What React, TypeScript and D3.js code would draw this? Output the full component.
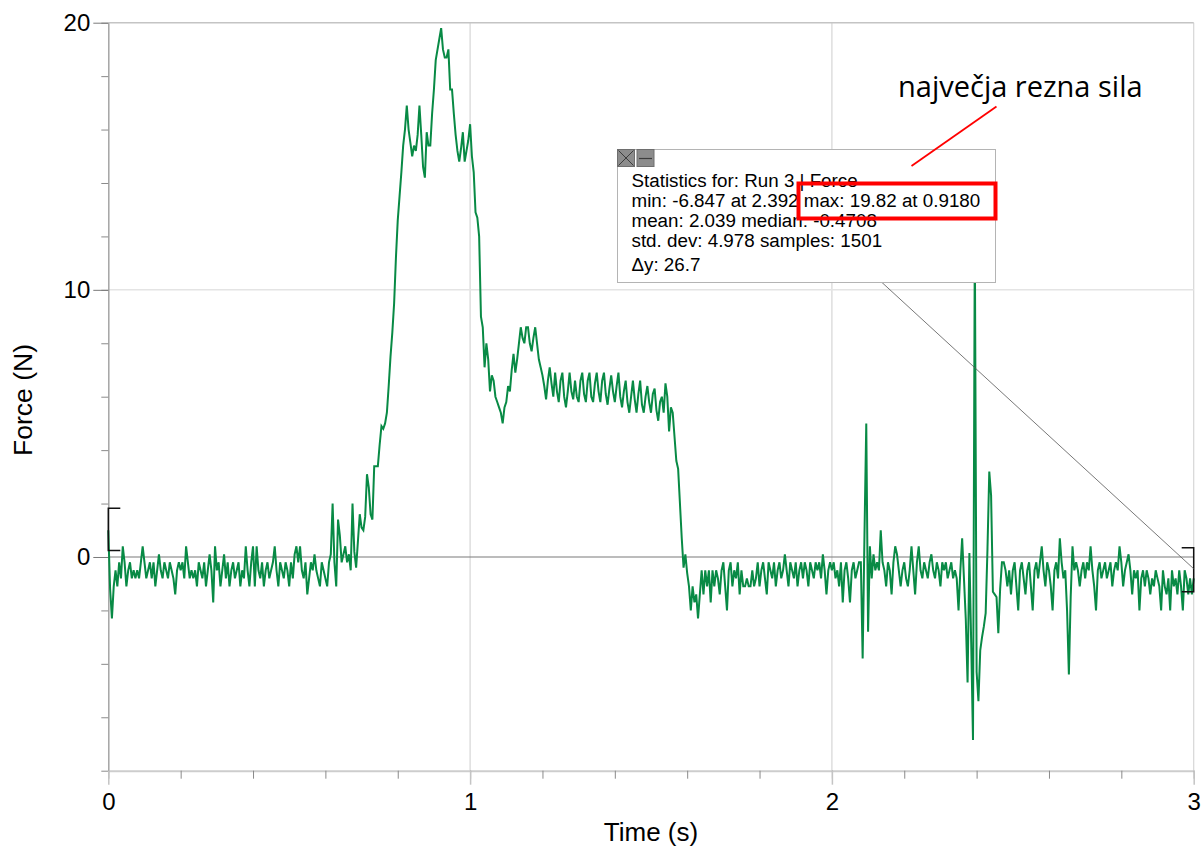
import React, { useEffect, useRef } from "react";
import * as d3 from "d3";

// sampling interval of the force sensor (s)
const SAMPLE_STEP = 0.005;

// Force (N), 0.000 – 0.995 s
const force0 = [
  1.0, -1.2, -2.3, -1.1, -0.5, -1.1, -0.2, -0.8, 0.4, -0.2, -1.1, -0.5, -0.2, -0.8, -0.5, -0.8, -0.5, -0.8, -0.2, 0.4,
  -0.2, -0.8, -0.5, -0.2, -0.8, -0.2, -1.1, -0.5, 0.1, -0.5, -0.8, -0.2, -0.5, -0.8, -0.2, -0.5, -0.8, -1.4, -0.5, -0.2,
  -0.5, -0.2, -0.8, 0.4, -0.2, -0.8, -0.5, -0.8, -0.5, -1.1, -0.2, -0.5, -0.8, -0.2, -1.1, -0.5, 0.1, -0.5, -1.7, 0.4,
  -0.5, -0.2, -1.1, -0.5, 0.1, -0.8, -0.2, -1.1, -0.5, -0.2, -0.8, -0.5, -0.2, -1.1, -0.5, -0.8, 0.4, -0.5, -1.1, -0.2,
  0.4, -1.1, 0.4, -0.5, -0.8, -0.2, -1.1, -0.5, -0.2, -0.8, -0.5, -0.2, 0.4, -0.5, -1.1, -0.2, -0.5, -0.8, -0.2, -0.5,
  -1.1, -0.2, -0.8, 0.1, 0.4, -0.2, 0.4, -0.5, -0.8, -0.2, -1.4, -0.8, -0.2, -0.5, 0.1, -0.5, -0.8, -1.1, -0.2, -0.5,
  -0.8, -1.1, -0.2, 0.1, 2.0, -0.2, -1.1, 1.4, 0.8, -0.2, 0.1, 0.4, -0.2, 0.1, -0.5, 2.0, 0.2, -0.4, 0.6, 1.6,
  1.1, 1.0, 1.5, 3.1, 2.6, 1.6, 1.4, 3.4, 3.4, 3.4, 4.2, 4.9, 4.8, 5.0, 5.4, 6.4, 7.5, 8.4, 9.5, 11.2,
  12.6, 13.5, 14.4, 15.4, 16.0, 16.9, 16.0, 15.5, 15.0, 15.4, 15.2, 15.8, 16.9, 15.8, 14.6, 14.2, 15.9, 15.4, 15.4, 16.6,
  17.5, 18.6, 19.0, 19.4, 19.8, 19.0, 18.7, 18.7, 19.0, 17.5, 17.5, 16.6, 15.8, 15.2, 14.8, 15.3, 15.9, 14.8, 15.2, 15.6,
];

// Force (N), 1.000 – 1.995 s
const force1 = [
  16.2, 15.0, 14.4, 12.9, 12.7, 12.0, 9.0, 8.6, 7.1, 8.0, 7.4, 6.2, 6.8, 6.6, 6.0, 5.8, 5.6, 5.4, 5.0, 5.6,
  5.8, 6.4, 6.2, 7.0, 7.6, 6.9, 7.4, 8.0, 8.6, 8.2, 8.0, 8.6, 8.6, 8.0, 7.7, 8.2, 8.6, 8.0, 7.4, 7.1,
  6.8, 6.4, 5.9, 6.6, 7.1, 6.5, 6.0, 6.9, 6.2, 5.8, 6.6, 6.9, 6.0, 5.6, 6.2, 6.9, 6.2, 5.9, 6.6, 6.0,
  5.8, 6.6, 6.9, 6.1, 5.8, 6.6, 6.9, 6.0, 5.8, 6.5, 6.9, 6.2, 5.8, 6.6, 6.9, 6.1, 5.7, 6.3, 6.8, 6.2,
  5.8, 6.4, 6.9, 6.0, 5.6, 6.2, 6.6, 5.8, 5.4, 6.0, 6.6, 5.9, 5.4, 6.1, 6.6, 5.7, 5.4, 6.0, 6.4, 5.8,
  5.4, 6.1, 6.3, 5.5, 5.1, 5.8, 6.0, 5.4, 6.5, 6.0, 4.7, 5.6, 5.4, 4.5, 3.6, 3.3, 2.0, 0.7, -0.4, 0.1,
  -0.6, -1.1, -2.0, -1.1, -1.7, -1.4, -2.3, -1.4, -0.5, -1.4, -0.5, -1.1, -0.5, -1.7, -0.5, -1.1, -0.5, -0.8, -1.4, -0.5,
  -0.2, -1.1, -2.0, -0.5, -0.2, -1.1, -0.5, -0.8, -0.2, -1.4, -0.5, -1.1, -1.1, -0.8, -1.1, -1.1, -0.5, -1.1, -0.8, -0.2,
  -1.1, -0.5, -0.2, -0.8, -1.4, -0.2, -0.5, -0.8, -0.2, -1.1, -0.5, -0.2, -0.8, -0.5, 0.1, -0.5, -1.1, -0.2, -0.5, -0.8,
  -0.2, -1.1, -0.5, -0.2, -0.8, -0.2, -0.5, -1.1, -0.2, -0.5, -0.8, -0.2, -0.5, -0.2, -0.8, 0.1, -0.5, -1.4, -0.5, -0.2,
];

// Force (N), 2.000 – 3.000 s
const force2 = [
  -0.5, -0.2, -0.8, -0.5, -1.1, -0.2, -1.7, -0.5, -0.2, -0.8, -1.7, -0.5, -0.2, -0.8, -0.5, -0.2, -0.2, -3.8, 0.8, 5.0,
  -2.8, 0.4, -0.8, 0.1, -0.5, -0.2, -0.5, 1.0, -0.2, -0.5, -1.1, -0.2, -0.5, -1.4, -0.2, 0.4, 0.1, -0.5, -1.1, -0.5,
  -0.2, -0.8, -1.1, -0.5, 0.4, -0.5, -1.4, -0.2, 0.4, -0.5, -0.8, -0.2, -0.5, -0.8, -0.2, 0.1, -0.5, -0.8, -0.2, -0.5,
  -1.1, -0.2, -0.5, -0.2, -0.8, -0.5, -0.2, -0.8, -0.5, -0.8, -2.0, -0.5, 0.7, -0.8, -2.3, -4.7, 0.15, -3.2, -6.85, 12.0,
  -4.3, -5.4, -3.5, -3.0, -2.6, -2.1, 0.3, 3.2, 2.3, -1.3, -1.4, -1.5, -2.85, -1.2, -0.2, -0.2, -0.5, -1.1, -0.5, -1.4,
  -0.5, -0.2, -1.1, -2.0, -0.5, -0.2, -0.8, -1.4, -0.5, -0.2, -1.1, -2.0, -0.5, -0.2, -0.8, -0.2, 0.4, -0.5, -1.1, -0.2,
  -0.5, -1.1, -2.0, -0.5, -0.2, -0.8, 0.7, -0.2, -0.8, -0.5, -2.0, -4.4, -1.5, 0.4, -0.5, -0.2, -0.5, -1.1, -0.5, -0.2,
  -0.8, -0.2, -0.5, 0.4, -0.5, -1.1, -2.0, -0.5, -0.2, -0.8, -0.5, -0.2, -0.8, -0.5, -0.2, -1.1, -0.5, -0.2, -0.5, 0.4,
  -0.2, -1.1, -0.5, -0.2, 0.1, -0.5, -1.4, -0.5, -0.8, -0.5, -2.0, -0.8, -0.5, -1.1, -0.5, -0.8, -1.4, -0.8, -1.1, -0.5,
  -0.8, -1.1, -2.0, -0.5, -1.1, -1.4, -0.8, -2.0, -0.5, -1.1, -0.8, -1.4, -0.5, -1.1, -2.0, -0.5, -0.8, -1.4, -0.8, -1.4,
  -0.8,
];

// axis ticks
const xMinorTicks = [0, 0.2, 0.4, 0.6, 0.8, 1, 1.2, 1.4, 1.6, 1.8, 2, 2.2, 2.4, 2.6, 2.8, 3];
const xMajorTicks = [0, 1, 2, 3];
const yMinorTicks = [-8, -6, -4, -2, 0, 2, 4, 6, 8, 10, 12, 14, 16, 18, 20];
const yMajorTicks = [0, 10, 20];

// cursor brackets and the Δy connector [[t, F], [t, F]]
const brackets = [
  { t: 0, top: 1.82, bottom: 0.24, side: 1 },
  { t: 3, top: 0.35, bottom: -1.3, side: -1 },
];
const deltaLine = [
  [2.134, 10.33],
  [3, -0.44],
];

const statsLines = [
  "Statistics for: Run 3 | Force",
  "min: -6.847 at 2.392 max: 19.82 at 0.9180",
  "mean: 2.039 median: -0.4708",
  "std. dev: 4.978 samples: 1501",
];
const deltaText = "Δy: 26.7";
const annotation = "največja rezna sila";

const FONT = "'Liberation Sans', Arial, sans-serif";
const GREEN = "#088a45";

function drawChart(el: SVGSVGElement | null) {
  if (!el) return;
  const svg = d3.select(el);
  svg.selectAll("*").remove();

  const data = [...force0, ...force1, ...force2].map((v, i) => ({
    t: i * SAMPLE_STEP,
    f: v,
  }));

  const x = d3.scaleLinear().domain([0, 3]).range([108.3, 1193.7]);
  const y = d3.scaleLinear().domain([-8, 20]).range([770.7, 22.7]);

  // grid
  svg
    .append("g")
    .selectAll("line")
    .data(xMajorTicks.filter((d) => d > 0))
    .join("line")
    .attr("x1", (d) => x(d))
    .attr("x2", (d) => x(d))
    .attr("y1", y(20))
    .attr("y2", y(-8))
    .attr("stroke", "#d6d6d6")
    .attr("stroke-width", 1.2);

  svg
    .append("g")
    .selectAll("line")
    .data([10, 20])
    .join("line")
    .attr("x1", x(0))
    .attr("x2", x(3))
    .attr("y1", (d) => y(d))
    .attr("y2", (d) => y(d))
    .attr("stroke", (d) => (d === 20 ? "#c4c4c4" : "#e4e4e4"))
    .attr("stroke-width", 1.5);

  // zero line
  svg
    .append("line")
    .attr("x1", x(0))
    .attr("x2", x(3))
    .attr("y1", y(0))
    .attr("y2", y(0))
    .attr("stroke", "#7a7a7a")
    .attr("stroke-width", 1.2);

  // y axis
  const yMinor = svg
    .append("g")
    .attr("transform", `translate(${x(0)},0)`)
    .call(d3.axisLeft(y).tickValues(yMinorTicks).tickSize(7).tickSizeOuter(0).tickFormat(() => ""));
  yMinor.select(".domain").attr("stroke", "#a4a4a4").attr("stroke-width", 1.5);
  yMinor.selectAll(".tick line").attr("stroke", "#8a8a8a");

  const yMajor = svg
    .append("g")
    .attr("transform", `translate(${x(0)},0)`)
    .call(d3.axisLeft(y).tickValues(yMajorTicks).tickSize(15).tickPadding(3).tickFormat(d3.format("d")));
  yMajor.select(".domain").remove();
  yMajor.selectAll(".tick line").attr("stroke", "#7a7a7a");
  yMajor
    .selectAll(".tick text")
    .attr("font-family", FONT)
    .attr("font-size", 24)
    .attr("fill", "#000");

  // x axis
  const xMinor = svg
    .append("g")
    .attr("transform", `translate(0,${y(-8)})`)
    .call(d3.axisBottom(x).tickValues(xMinorTicks).tickSize(8).tickSizeOuter(0).tickFormat(() => ""));
  xMinor.select(".domain").attr("stroke", "#cdcdcd").attr("stroke-width", 2);
  xMinor.selectAll(".tick line").attr("stroke", "#8a8a8a");

  const xMajor = svg
    .append("g")
    .attr("transform", `translate(0,${y(-8)})`)
    .call(d3.axisBottom(x).tickValues(xMajorTicks).tickSize(14).tickPadding(8).tickFormat(d3.format("d")));
  xMajor.select(".domain").remove();
  xMajor.selectAll(".tick line").attr("stroke", "#c4c4c4").attr("stroke-width", 1.5);
  xMajor
    .selectAll(".tick text")
    .attr("font-family", FONT)
    .attr("font-size", 24)
    .attr("fill", "#000");

  // axis titles
  svg
    .append("text")
    .attr("x", (x(0) + x(3)) / 2)
    .attr("y", 841)
    .attr("text-anchor", "middle")
    .attr("font-family", FONT)
    .attr("font-size", 26)
    .text("Time (s)");

  svg
    .append("text")
    .attr("transform", "translate(32.3,400) rotate(-90)")
    .attr("text-anchor", "middle")
    .attr("font-family", FONT)
    .attr("font-size", 26.5)
    .text("Force (N)");

  // force trace
  const line = d3
    .line<{ t: number; f: number }>()
    .x((d) => x(d.t))
    .y((d) => y(d.f));

  svg
    .append("path")
    .datum(data)
    .attr("fill", "none")
    .attr("stroke", GREEN)
    .attr("stroke-width", 2)
    .attr("d", line);

  // cursor brackets
  brackets.forEach((b) => {
    const bx = x(b.t);
    svg
      .append("path")
      .attr("d", `M${bx + b.side * 12},${y(b.top)}H${bx}V${y(b.bottom)}H${bx + b.side * 12}`)
      .attr("fill", "none")
      .attr("stroke", "#111")
      .attr("stroke-width", 1.5);
  });

  // Δy connector
  svg
    .append("line")
    .attr("x1", x(deltaLine[0][0]))
    .attr("y1", y(deltaLine[0][1]))
    .attr("x2", x(deltaLine[1][0]))
    .attr("y2", y(deltaLine[1][1]))
    .attr("stroke", "#555")
    .attr("stroke-width", 0.8);

  // statistics box
  const box = svg.append("g").attr("transform", "translate(617.5,149.5)");
  box
    .append("rect")
    .attr("width", 378)
    .attr("height", 133)
    .attr("fill", "#fff")
    .attr("stroke", "#b4b4b4")
    .attr("stroke-width", 1);

  [0, 19.5].forEach((dx, i) => {
    const ic = box.append("g").attr("transform", `translate(${dx},0)`);
    ic.append("rect")
      .attr("width", 17)
      .attr("height", 17)
      .attr("fill", "#8c8c8c")
      .attr("stroke", "#6e6e6e")
      .attr("stroke-width", 1);
    if (i === 0) {
      ic.append("path")
        .attr("d", "M1,1L16,16M16,1L1,16")
        .attr("stroke", "#3c3c3c")
        .attr("stroke-width", 1);
    } else {
      ic.append("line")
        .attr("x1", 2)
        .attr("x2", 15)
        .attr("y1", 9)
        .attr("y2", 9)
        .attr("stroke", "#3c3c3c")
        .attr("stroke-width", 1.2);
    }
  });

  box
    .selectAll("text.stat")
    .data(statsLines)
    .join("text")
    .attr("class", "stat")
    .attr("x", 14)
    .attr("y", (_, i) => 37 + i * 20)
    .attr("font-family", FONT)
    .attr("font-size", 18.8)
    .attr("fill", "#000")
    .text((d) => d);

  box
    .append("text")
    .attr("x", 14)
    .attr("y", 121)
    .attr("font-family", FONT)
    .attr("font-size", 18.8)
    .attr("fill", "#000")
    .text(deltaText);

  // highlight of the maximum
  svg
    .append("rect")
    .attr("x", 798.5)
    .attr("y", 183.5)
    .attr("width", 197)
    .attr("height", 35)
    .attr("fill", "none")
    .attr("stroke", "#ff0000")
    .attr("stroke-width", 4);

  // annotation
  svg
    .append("text")
    .attr("x", 898)
    .attr("y", 96.5)
    .attr("font-family", "'Open Sans', sans-serif")
    .attr("font-size", 29)
    .attr("fill", "#000")
    .text(annotation);

  svg
    .append("line")
    .attr("x1", 996.5)
    .attr("y1", 106.5)
    .attr("x2", 911.5)
    .attr("y2", 166)
    .attr("stroke", "#ff0000")
    .attr("stroke-width", 1.8);
}

const App = () => {
  const svgRef = useRef<SVGSVGElement>(null);

  useEffect(() => {
    drawChart(svgRef.current);
  }, []);

  return (
    <svg
      ref={svgRef}
      width={1202}
      height={846}
      style={{ position: "absolute", left: 0, top: 0, background: "#fff" }}
    />
  );
};

export default App;
